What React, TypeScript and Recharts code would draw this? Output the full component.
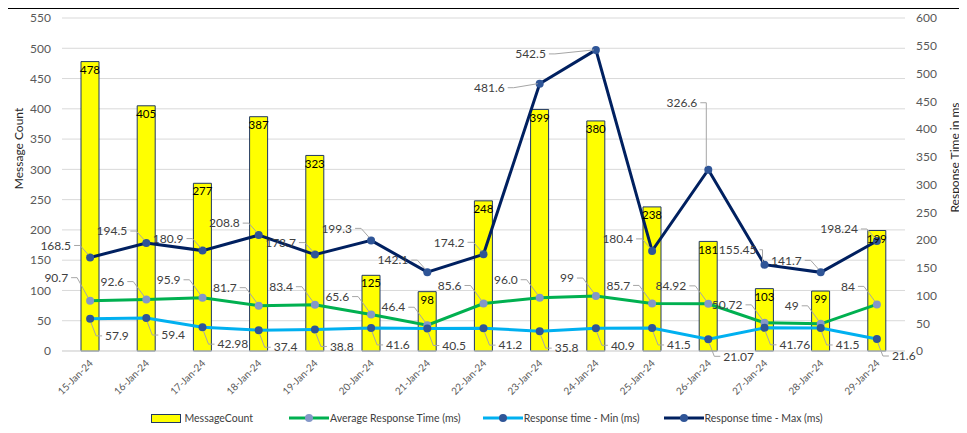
import {
  ComposedChart,
  Bar,
  Line,
  XAxis,
  YAxis,
  CartesianGrid,
  Legend,
  LabelList,
  Label,
} from "recharts";

const categories = [
  "15-Jan-24", "16-Jan-24", "17-Jan-24", "18-Jan-24", "19-Jan-24",
  "20-Jan-24", "21-Jan-24", "22-Jan-24", "23-Jan-24", "24-Jan-24",
  "25-Jan-24", "26-Jan-24", "27-Jan-24", "28-Jan-24", "29-Jan-24",
];
const messageCount = [478, 405, 277, 387, 323, 125, 98, 248, 399, 380, 238, 181, 103, 99, 199];
const avgResponse = [90.7, 92.6, 95.9, 81.7, 83.4, 65.6, 46.4, 85.6, 96.0, 99, 85.7, 84.92, 50.72, 49, 84];
// the chart prints 96.0 with its trailing zero
const avgLabelText = ["90.7", "92.6", "95.9", "81.7", "83.4", "65.6", "46.4", "85.6", "96.0", "99", "85.7", "84.92", "50.72", "49", "84"];
const minResponse = [57.9, 59.4, 42.98, 37.4, 38.8, 41.6, 40.5, 41.2, 35.8, 40.9, 41.5, 21.07, 41.76, 41.5, 21.6];
const maxResponse = [168.5, 194.5, 180.9, 208.8, 173.7, 199.3, 142.1, 174.2, 481.6, 542.5, 180.4, 326.6, 155.45, 141.7, 198.24];
const countTicks = [0, 50, 100, 150, 200, 250, 300, 350, 400, 450, 500, 550];
const msTicks = [0, 50, 100, 150, 200, 250, 300, 350, 400, 450, 500, 550, 600];

const data = categories.map((day, i) => ({
  day,
  count: messageCount[i],
  avg: avgResponse[i],
  avgText: avgLabelText[i],
  min: minResponse[i],
  max: maxResponse[i],
}));

const AVG = "#00b050";
const MIN = "#00b0f0";
const MAX = "#002060";
const LEADER = "#a6a6a6";
const LABEL = "#404040";

// a few labels were dragged by hand in the original: [gap, dy] per point
const avgNudge: Record<number, [number, number]> = { 0: [22, -23] };
const maxNudge: Record<number, [number, number]> = {
  8: [35, 4],
  9: [50, 4],
  11: [11, -67],
  12: [8, -15],
};

// labels above-left of the point with a leader line
const leftLabel =
  (dy0: number, gap0: number, nudge: Record<number, [number, number]>) =>
  (props: any) => {
    const { x, y, value, index } = props;
    const [gap, dy] = nudge[index] ?? [gap0, dy0];
    const ty = y + dy;
    const bend = Math.min(x - gap + 9, x - 2);
    return (
      <g>
        <polyline
          points={`${x - gap + 3},${ty} ${bend},${ty} ${x - 2},${y + (dy < 0 ? -3 : 0)}`}
          fill="none"
          stroke={LEADER}
          strokeWidth={1}
        />
        <text x={x - gap} y={ty} dy="0.35em" textAnchor="end" fontSize={12} fill={LABEL}>
          {value}
        </text>
      </g>
    );
  };

// labels below-right of the point
const MinLabel = (props: any) => {
  const { x, y, value } = props;
  const ty = y + 17;
  return (
    <g>
      <polyline
        points={`${x + 1},${y + 4} ${x + 6},${ty} ${x + 12},${ty}`}
        fill="none"
        stroke={LEADER}
        strokeWidth={1}
      />
      <text x={x + 15} y={ty} dy="0.35em" textAnchor="start" fontSize={12} fill={LABEL}>
        {value}
      </text>
    </g>
  );
};

const DayTick = (props: any) => {
  const { x, y, payload } = props;
  return (
    <text
      x={x}
      y={y}
      transform={`rotate(-45 ${x} ${y})`}
      textAnchor="end"
      dx={-1}
      dy={6}
      fontSize={10}
      fill="#595959"
    >
      {payload.value}
    </text>
  );
};

const lineIcon = (color: string, dot: string) => (
  <svg width={40} height={10} style={{ marginRight: 1 }}>
    <line x1={0} y1={5} x2={40} y2={5} stroke={color} strokeWidth={3} />
    <circle cx={20} cy={5} r={4} fill={dot} />
  </svg>
);

const LegendContent = () => (
  <div
    style={{
      display: "flex",
      justifyContent: "center",
      alignItems: "center",
      fontSize: 10.5,
      color: LABEL,
      paddingTop: 2,
      height: 28,
      boxSizing: "border-box",
    }}
  >
    <div style={{ display: "flex", alignItems: "center", marginRight: 36 }}>
      <div
        style={{
          width: 28,
          height: 7,
          background: "#ffff00",
          border: "1px solid #203864",
          marginRight: 3,
        }}
      />
      MessageCount
    </div>
    <div style={{ display: "flex", alignItems: "center", marginRight: 22 }}>
      {lineIcon(AVG, "#8497c8")}
      Average Response Time (ms)
    </div>
    <div style={{ display: "flex", alignItems: "center", marginRight: 24 }}>
      {lineIcon(MIN, "#2f5597")}
      Response time - Min (ms)
    </div>
    <div style={{ display: "flex", alignItems: "center" }}>
      {lineIcon(MAX, "#2f5597")}
      Response time - Max (ms)
    </div>
  </div>
);

export default function App() {
  return (
    <div
      style={{
        width: 959,
        height: 425,
        borderTop: "1.5px solid #000",
        borderLeft: "1.5px solid #000",
        fontFamily: "Lato, sans-serif",
        background: "#fff",
        marginLeft: -1,
      }}
    >
      <ComposedChart
        width={958}
        height={424}
        data={data}
        margin={{ top: 9, right: 0, left: 0, bottom: 0 }}
      >
        <CartesianGrid yAxisId="left" vertical={false} stroke="#d9d9d9" />
        <XAxis
          dataKey="day"
          height={52}
          tickLine={false}
          axisLine={{ stroke: "#d9d9d9" }}
          interval={0}
          tick={<DayTick />}
        />
        <YAxis
          yAxisId="left"
          width={54}
          domain={[0, 550]}
          ticks={countTicks}
          tickLine={false}
          axisLine={false}
          tickMargin={5}
          tick={{ fontSize: 12, fill: "#595959" }}
        >
          <Label
            value="Message Count"
            angle={-90}
            position="center"
            dx={-16}
            dy={-36}
            style={{ fontSize: 12, fill: "#262626", textAnchor: "middle" }}
          />
        </YAxis>
        <YAxis
          yAxisId="right"
          orientation="right"
          width={61}
          domain={[0, 600]}
          ticks={msTicks}
          tickLine={false}
          axisLine={false}
          tickMargin={5}
          tick={{ fontSize: 12, fill: "#595959" }}
        >
          <Label
            value="Response Time in ms"
            angle={-90}
            position="center"
            dx={19}
            dy={-27}
            style={{ fontSize: 12, fill: "#262626", textAnchor: "middle" }}
          />
        </YAxis>
        <Legend verticalAlign="bottom" height={30} content={() => <LegendContent />} />
        <Bar
          yAxisId="left"
          dataKey="count"
          name="MessageCount"
          fill="#ffff00"
          stroke="#203864"
          strokeWidth={1}
          barSize={18}
          isAnimationActive={false}
        >
          <LabelList dataKey="count" position="insideTop" fontSize={11.5} fill="#000" offset={4} />
        </Bar>
        <Line
          yAxisId="right"
          dataKey="avg"
          name="Average Response Time (ms)"
          stroke={AVG}
          strokeWidth={3}
          dot={{ r: 4, fill: "#8497c8", stroke: "none" }}
          isAnimationActive={false}
        >
          <LabelList dataKey="avgText" content={leftLabel(-18, 22, avgNudge)} />
        </Line>
        <Line
          yAxisId="right"
          dataKey="min"
          name="Response time - Min (ms)"
          stroke={MIN}
          strokeWidth={3}
          dot={{ r: 4, fill: "#2f5597", stroke: "none" }}
          isAnimationActive={false}
        >
          <LabelList dataKey="min" content={MinLabel} />
        </Line>
        <Line
          yAxisId="right"
          dataKey="max"
          name="Response time - Max (ms)"
          stroke={MAX}
          strokeWidth={3}
          dot={{ r: 4, fill: "#2f5597", stroke: "none" }}
          isAnimationActive={false}
        >
          <LabelList dataKey="max" content={leftLabel(-12, 19, maxNudge)} />
        </Line>
      </ComposedChart>
    </div>
  );
}
